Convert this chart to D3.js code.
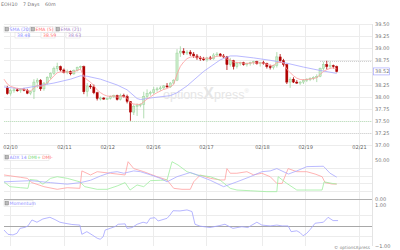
<!DOCTYPE html>
<html>
<head>
<meta charset="utf-8">
<script src="https://cdn.jsdelivr.net/npm/d3@7"></script>
<style>
body { margin: 0; background: #fff; }
svg { display: block; font-family: "DejaVu Sans", Verdana, sans-serif; }
</style>
</head>
<body>
<svg id="chart" width="400" height="250"></svg>
<script>
// 60 minute bars, bar n sits at index n (1..100)
const open = [38.18,38.06,38.12,38.14,38.12,38.15,38.13,38.07,38.10,38.30,
  38.34,38.16,38.28,38.40,38.48,38.58,38.62,38.55,38.50,38.52,
  38.47,38.54,38.60,38.62,38.10,38.22,38.20,38.08,37.96,37.97,
  37.95,37.96,38.00,38.02,37.94,38.02,38.00,37.90,37.68,37.80,
  37.82,37.84,38.00,38.06,38.08,38.14,38.16,38.18,38.22,38.20,
  38.28,38.34,38.90,38.94,38.90,38.92,38.88,38.84,38.80,38.78,
  38.76,38.80,38.78,38.86,38.88,38.84,38.82,38.66,38.74,38.62,
  38.68,38.70,38.66,38.68,38.70,38.72,38.68,38.70,38.68,38.62,
  38.60,38.64,38.82,38.74,38.66,38.30,38.36,38.30,38.28,38.30,
  38.34,38.36,38.38,38.40,38.42,38.58,38.66,38.62,38.64,38.62];
const high = [38.22,38.16,38.18,38.18,38.17,38.18,38.16,38.12,38.36,38.38,
  38.36,38.30,38.42,38.50,38.62,38.70,38.64,38.58,38.56,38.54,
  38.56,38.62,38.64,38.64,38.28,38.26,38.25,38.10,38.00,37.99,
  37.98,38.02,38.04,38.04,38.06,38.06,38.04,37.90,37.84,37.86,
  37.86,38.10,38.15,38.12,38.20,38.20,38.22,38.24,38.28,38.30,
  38.36,38.98,39.04,39.00,38.96,38.96,38.92,38.88,38.84,38.82,
  38.82,38.84,38.90,38.92,38.90,38.88,38.84,38.80,38.76,38.72,
  38.72,38.72,38.70,38.72,38.74,38.74,38.72,38.74,38.70,38.66,
  38.66,38.92,38.88,38.78,38.68,38.40,38.40,38.34,38.32,38.36,
  38.38,38.40,38.42,38.46,38.60,38.72,38.74,38.72,38.66,38.64];
const low = [38.04,38.02,38.08,38.10,38.08,38.11,38.05,38.03,37.95,38.18,
  38.12,38.12,38.25,38.36,38.45,38.52,38.52,38.48,38.46,38.44,
  38.45,38.52,38.56,38.05,38.00,38.16,38.05,37.92,37.92,37.93,
  37.93,37.94,37.97,37.92,37.92,37.98,37.86,37.50,37.62,37.60,
  37.78,37.55,37.96,38.02,38.05,38.10,38.12,38.14,38.18,38.18,
  38.26,38.32,38.82,38.86,38.86,38.84,38.80,38.76,38.74,38.74,
  38.72,38.76,38.76,38.82,38.82,38.80,38.55,38.62,38.56,38.58,
  38.64,38.64,38.62,38.64,38.66,38.66,38.62,38.66,38.58,38.56,
  38.56,38.60,38.70,38.62,38.26,38.18,38.28,38.26,38.24,38.26,
  38.30,38.32,38.34,38.30,38.40,38.54,38.56,38.58,38.58,38.50];
const close = [38.06,38.12,38.14,38.12,38.15,38.13,38.07,38.10,38.30,38.34,
  38.16,38.28,38.40,38.48,38.58,38.62,38.55,38.50,38.52,38.47,
  38.54,38.60,38.62,38.10,38.22,38.20,38.08,37.96,37.97,37.95,
  37.96,38.00,38.02,37.94,38.02,38.00,37.90,37.68,37.80,37.82,
  37.84,38.00,38.06,38.08,38.14,38.16,38.18,38.22,38.20,38.28,
  38.34,38.90,38.94,38.90,38.92,38.88,38.84,38.80,38.78,38.76,
  38.80,38.78,38.86,38.88,38.84,38.82,38.66,38.74,38.62,38.68,
  38.70,38.66,38.68,38.70,38.72,38.68,38.70,38.68,38.62,38.60,
  38.64,38.82,38.74,38.66,38.30,38.36,38.30,38.28,38.30,38.34,
  38.36,38.38,38.40,38.42,38.58,38.66,38.62,38.64,38.62,38.52];

// SMA (20): [bar index, value]
const smaPts = [[0,38.20],[5,38.16],[10,38.22],[15,38.28],[20,38.36],[23,38.43],[25,38.42],
  [29,38.36],[34,38.24],[37,38.14],[40,37.96],[41,37.94],[45,37.98],[50,38.02],[52,38.08],
  [55,38.22],[60,38.52],[65,38.76],[68,38.84],[70,38.84],[75,38.80],[80,38.75],[85,38.69],
  [90,38.61],[95,38.54],[100,38.48]];
const emaStart = 38.36;

const adxPts = [[0,22],[8,23.5],[14,21],[19,19],[23,21],[26,24],[29,29.5],[32,34],[34,35],
  [36,33],[39,36],[41,35],[44,31],[47,26.5],[49,22],[52,28.6],[56,34],[58,31],[59,29],
  [62,24],[66,15.8],[70,22],[74,28.6],[77.5,35],[80,36],[82,39],[85.5,32],[88,36],
  [91,41.5],[96,42],[98,33],[100,28]];
const dmiPlus = [[0,22],[1.8,15.8],[5,14.5],[7.2,13.7],[7.8,25],[10,24],[11.7,19],[14,26.5],
  [16,28.6],[19,26.5],[22.8,22],[24.3,15.8],[28,12.4],[31,12.4],[34,16.7],[36.4,21],
  [37.9,11.5],[40,18],[42,15.8],[44,23.5],[47,24],[49,24.4],[50.5,47.8],[52.3,43.6],
  [55,35],[58,30.8],[62,28.6],[65,24],[68,13.7],[70,11.5],[74,10.6],[79,9.4],[82,9.4],
  [82.4,28.6],[85,20],[88,11.5],[92,11.5],[95.6,11.5],[96.2,22],[98.6,20],[100,19.2]];
const dmiMinus = [[0,30.8],[5,27.8],[7,26.5],[8.4,21],[12,15.8],[16,12.4],[19,14.5],
  [22.8,13.7],[23.4,36],[26,30.8],[28,35],[32,33],[36.4,30.8],[37.3,47.8],[39,39],[42,35],
  [46,28.6],[49,24.4],[51,13.7],[53.5,12.4],[56,12.4],[57,22],[59,30.8],[62,26.5],
  [65,24.4],[66.4,24.4],[67,39],[68,33],[70,33],[73,35],[75,31],[77.5,33],[80,28.6],
  [82,20],[83.6,20],[85.4,39],[88,35],[91,35],[93.5,32],[95.6,28.6],[96.5,21],[98.6,19.2],
  [100,19.2]];
const momPts = [[0,-0.22],[1.2,-0.43],[2.7,-0.46],[3.9,-0.38],[4.8,-0.14],[6.3,-0.09],
  [7.2,-0.02],[8.4,0.27],[9.9,0.16],[11.7,0.32],[13.8,0.40],[15.3,0.29],[16.8,0.16],
  [18.3,0.11],[20.4,0.05],[22.8,0.02],[23.4,-0.43],[24.9,-0.30],[26.5,-0.46],[28,-0.62],
  [28.9,-0.67],[29.8,-0.55],[30.4,-0.22],[31.9,-0.14],[33.4,-0.05],[34.3,0.06],[36.4,0.08],
  [37,-0.14],[38.5,-0.10],[40,0.06],[41.8,0.16],[43,0.11],[43.9,0.35],[45.4,0.38],
  [46.3,0.22],[49,0.35],[49.9,0.51],[50.8,0.72],[52.9,0.71],[55,0.76],[56.5,0.68],
  [57.4,0.06],[58.9,-0.03],[61.9,-0.10],[64.9,0.0],[66.4,0.06],[68.8,-0.14],[71.5,-0.06],
  [73.3,-0.10],[74.5,0.02],[76,0.16],[77.5,0.02],[80,-0.02],[82,0.02],[83.6,-0.02],
  [85.4,-0.02],[86.3,-0.30],[88,-0.26],[89,-0.35],[89.9,-0.50],[91,-0.38],[92,-0.20],
  [93.5,0.11],[95,0.14],[96,0.16],[97.4,0.40],[98.9,0.24],[100.4,0.24]];

const dayIdx = [1.8, 18, 31, 44.8, 60.7, 77.5, 90.5, 106.7];
const dayLabels = ['02/10','02/11','02/12','02/16','02/17','02/18','02/19','02/21'];
const priceTicks = [39.5,39.25,39,38.75,38.5,38.25,38,37.75,37.5,37.25,37];

const svg = d3.select('#chart');
const x = d3.scaleLinear().domain([0, 110]).range([4, 370]);
const yP = d3.scaleLinear().domain([37, 39.5]).range([145, 24]);
const yA = d3.scaleLinear().domain([0, 50]).range([199, 160]);
const yM = d3.scaleLinear().domain([-1, 1]).range([246, 205]);

const grid = '#ececec';

// header
const head = svg.append('g').attr('font-size', 4.8).attr('fill', '#777');
head.append('text').attr('x', 1).attr('y', 6).text('EOH10');
head.append('text').attr('x', 23).attr('y', 6).text('7 Days');
head.append('text').attr('x', 45).attr('y', 6).text('60m');

// grids
function hgrid(vals, y) {
  svg.append('g').selectAll('line').data(vals).join('line')
    .attr('x1', 4).attr('x2', 372)
    .attr('y1', d => Math.round(y(d)) + 0.5).attr('y2', d => Math.round(y(d)) + 0.5)
    .attr('stroke', grid).attr('stroke-width', 1);
}
function vgrid(y1, y2) {
  svg.append('g').selectAll('line').data(dayIdx).join('line')
    .attr('x1', d => Math.round(x(d)) + 0.5).attr('x2', d => Math.round(x(d)) + 0.5)
    .attr('y1', y1).attr('y2', y2)
    .attr('stroke', grid);
}
hgrid(priceTicks, yP);
vgrid(24, 145);
vgrid(145, 152);
hgrid([10, 20, 30, 40], yA);
vgrid(152, 199);
hgrid([0.5, -0.5], yM);
vgrid(200, 246);
svg.append('line').attr('x1', 372.5).attr('x2', 372.5).attr('y1', 24).attr('y2', 246).attr('stroke', '#e4e4e4');

// dotted reference lines
svg.append('line').attr('x1', 4).attr('x2', 372).attr('y1', Math.round(yP(37.5)) + 0.5).attr('y2', Math.round(yP(37.5)) + 0.5)
  .attr('stroke', '#bfe6bf').attr('stroke-dasharray', '1,1');
svg.append('line').attr('x1', 4).attr('x2', 372).attr('y1', Math.round(yP(37.25)) + 0.5).attr('y2', Math.round(yP(37.25)) + 0.5)
  .attr('stroke', '#d6d6d6').attr('stroke-dasharray', '1,1');
svg.append('line').attr('x1', x(95)).attr('x2', 372).attr('y1', Math.round(yP(38.73)) + 0.5).attr('y2', Math.round(yP(38.73)) + 0.5)
  .attr('stroke', '#cfcfcf').attr('stroke-dasharray', '1,1');

// watermark
const wm = svg.append('text').attr('x', 163).attr('y', 99).attr('fill', '#e6e6e6')
  .attr('font-family', 'Arial, "Liberation Sans", sans-serif').attr('font-size', 12.5);
wm.append('tspan').text('options');
wm.append('tspan').attr('font-size', 16).attr('font-weight', 'bold').text('X');
wm.append('tspan').text('press');
wm.append('tspan').attr('font-size', 6).attr('dy', -6).text('®');

// candles
const bars = close.map((c, i) => ({ i: i + 1, o: open[i], h: high[i], l: low[i], c }));
const cg = svg.append('g');
cg.selectAll('line').data(bars).join('line')
  .attr('x1', d => x(d.i)).attr('x2', d => x(d.i))
  .attr('y1', d => yP(d.h)).attr('y2', d => yP(d.l))
  .attr('stroke', d => d.c >= d.o ? '#9fd49f' : '#b00000').attr('stroke-width', 0.8);
cg.selectAll('rect').data(bars).join('rect')
  .attr('x', d => x(d.i) - 1.1).attr('width', 2.2)
  .attr('y', d => yP(Math.max(d.o, d.c)))
  .attr('height', d => Math.max(1, Math.abs(yP(d.o) - yP(d.c))))
  .attr('fill', d => d.c >= d.o ? '#c9ecc9' : '#b00000')
  .attr('stroke', d => d.c >= d.o ? '#8fcc8f' : '#b00000').attr('stroke-width', 0.4);

// moving averages
const ema = [];
let e = emaStart;
ema.push([0, e]);
close.forEach((c, i) => { e = e + (c - e) * 2 / 6; ema.push([i + 1, e]); });

function line(pts, y, color, w) {
  svg.append('path').datum(pts)
    .attr('d', d3.line().x(d => x(d[0])).y(d => y(d[1])))
    .attr('fill', 'none').attr('stroke', color).attr('stroke-width', w || 0.8);
}
line(smaPts, yP, '#a7a7ff');
line(ema, yP, '#ff9c9c');

// ADX panel
line(dmiMinus, yA, '#ffa0a0');
line(dmiPlus, yA, '#9fee9f');
line(adxPts, yA, '#a9a9ff');

// momentum panel
svg.append('line').attr('x1', 4).attr('x2', 372).attr('y1', Math.round(yM(0)) + 0.5).attr('y2', Math.round(yM(0)) + 0.5)
  .attr('stroke', '#a8a8a8');
svg.append('line').attr('x1', 4).attr('x2', 372).attr('y1', 199.5).attr('y2', 199.5).attr('stroke', '#b0b0b0');
line(momPts, yM, '#a3a3ff');

// axes
function rightAxis(scale, vals, fmt) {
  const g = svg.append('g').attr('transform', 'translate(373,0)')
    .call(d3.axisRight(scale).tickValues(vals).tickFormat(fmt).tickSize(0).tickPadding(2));
  g.select('.domain').remove();
  g.selectAll('text').attr('font-size', 5).attr('fill', '#777').attr('font-family', '"DejaVu Sans", sans-serif');
}
rightAxis(yP, priceTicks, d3.format('.2f'));
rightAxis(yA, [50, 0], d3.format('.2f'));
rightAxis(yM, [1, -1], d3.format('.2f'));

const xa = svg.append('g').attr('transform', 'translate(0,143)')
  .call(d3.axisBottom(x).tickValues(dayIdx).tickFormat((d, i) => dayLabels[i]).tickSize(0).tickPadding(2));
xa.select('.domain').remove();
xa.selectAll('text').attr('font-size', 5).attr('fill', '#666').attr('font-family', '"DejaVu Sans", sans-serif');

// last price box
const last = close[close.length - 1];
svg.append('rect').attr('x', 373.5).attr('y', yP(last) - 3.5).attr('width', 16).attr('height', 7)
  .attr('fill', '#fff').attr('stroke', '#9c9cff').attr('stroke-width', 0.6);
svg.append('text').attr('x', 375).attr('y', yP(last) + 1.8).attr('font-size', 5).attr('fill', '#777')
  .text(last.toFixed(2));

// legends
function legend(xp, yp, items, w) {
  const g = svg.append('g');
  g.append('rect').attr('x', xp).attr('y', yp - 3).attr('width', w).attr('height', 6)
    .attr('fill', '#fff').attr('stroke', '#dcdcdc').attr('stroke-width', 0.5);
  g.append('rect').attr('x', xp + 1).attr('y', yp - 2).attr('width', 3.5).attr('height', 3.5)
    .attr('fill', '#bbb').attr('stroke', '#666').attr('stroke-width', 0.4);
  const t = g.append('text').attr('x', xp + 5.5).attr('y', yp + 1.8).attr('font-size', 4.6);
  items.forEach(it => t.append('tspan').attr('fill', it[1]).text(it[0]));
}
const maNames = ['SMA (20)', 'EMA (5)', 'EMA (21)'];
const maValues = ['38.48', '38.59', '38.63'];
const maColors = ['#8c8cff', '#ff6f6f', '#a884c9'];
const maX = [4, 30, 55];
maNames.forEach((n, i) => {
  legend(maX[i], 29.5, [[n, maColors[i]]], 23);
  svg.append('rect').attr('x', maX[i] + 11).attr('y', 32.5).attr('width', 14).attr('height', 5.5)
    .attr('fill', '#fff').attr('stroke', '#dcdcdc').attr('stroke-width', 0.5);
  svg.append('text').attr('x', maX[i] + 13).attr('y', 36.8).attr('font-size', 4.6)
    .attr('fill', maColors[i]).text(maValues[i]);
});
legend(4, 157.5, [['ADX 14 ', '#8c8cff'], ['DMI+ ', '#6fd66f'], ['DMI-', '#ff6f6f']], 45);
legend(4, 203.5, [['Momentum', '#8c8cff']], 29);

// footer
svg.append('text').attr('x', 370).attr('y', 248.5).attr('text-anchor', 'end')
  .attr('font-size', 4.3).attr('fill', '#888').text('© optionsXpress');
</script>
</body>
</html>
